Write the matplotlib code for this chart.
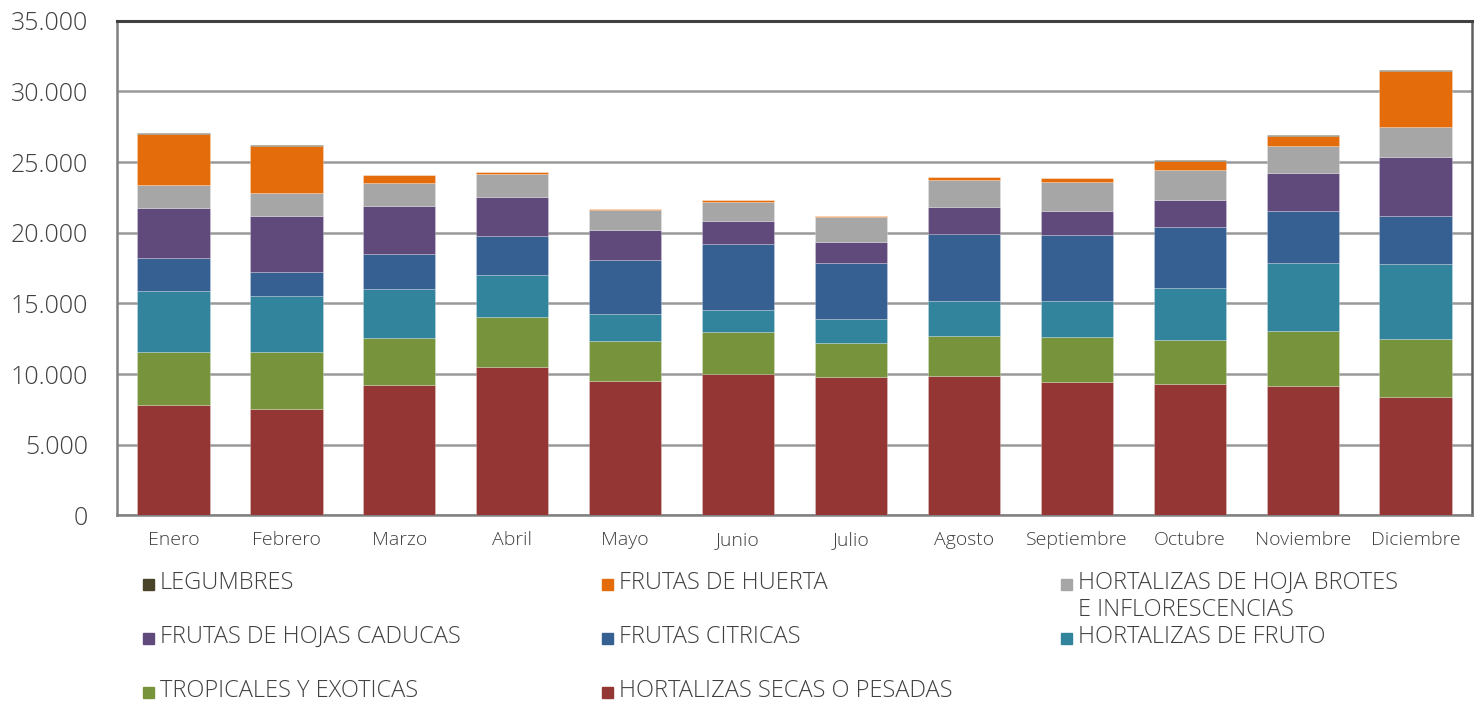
import numpy as np
import matplotlib
matplotlib.use("Agg")
from matplotlib import pyplot as plt
from matplotlib.patches import Rectangle
from matplotlib.ticker import FuncFormatter

# months on the x axis
meses = ['Enero', 'Febrero', 'Marzo', 'Abril', 'Mayo', 'Junio', 'Julio',
         'Agosto', 'Septiembre', 'Octubre', 'Noviembre', 'Diciembre']

# series, bottom of the stack first
secas = [7790, 7507, 9228, 10481, 9532, 10007, 9816, 9887, 9419, 9277, 9179, 8378]
tropicales = [3796, 4036, 3307, 3541, 2812, 2953, 2365, 2790, 3208, 3116, 3852, 4086]
hort_fruto = [4278, 3967, 3470, 2975, 1912, 1558, 1700, 2479, 2550, 3726, 4816, 5312]
citricas = [2358, 1742, 2479, 2783, 3803, 4674, 4008, 4744, 4653, 4277, 3683, 3399]
caducas = [3520, 3895, 3371, 2713, 2096, 1650, 1487, 1912, 1721, 1884, 2662, 4200]
hoja = [1650, 1679, 1629, 1678, 1417, 1346, 1728, 1885, 2032, 2124, 1913, 2075]
huerta = [3590, 3307, 567, 120, 70, 92, 93, 240, 305, 687, 736, 3966]
legumbres = [60, 40, 10, 5, 0, 0, 0, 0, 0, 50, 71, 70]

series = [
    ('HORTALIZAS SECAS O PESADAS', secas, '#943634'),
    ('TROPICALES Y EXOTICAS', tropicales, '#77933C'),
    ('HORTALIZAS DE FRUTO', hort_fruto, '#31849B'),
    ('FRUTAS CITRICAS', citricas, '#366092'),
    ('FRUTAS DE HOJAS CADUCAS', caducas, '#604A7B'),
    ('HORTALIZAS DE HOJA BROTES\nE INFLORESCENCIAS', hoja, '#A6A6A6'),
    ('FRUTAS DE HUERTA', huerta, '#E46C0A'),
    ('LEGUMBRES', legumbres, '#494429'),
]

plt.rcParams['font.family'] = ['Open Sans', 'DejaVu Sans']
plt.rcParams['font.weight'] = 'light'
txt_color = '#404040'

fig = plt.figure(figsize=(14.83, 7.04), dpi=100)
ax = fig.add_axes([0.0789, 0.268, 0.9137, 0.7026])

x = np.arange(len(meses))
bottom = np.zeros(len(meses))
for name, vals, col in series:
    vals = np.array(vals, dtype=float)
    ax.bar(x, vals, 0.64, bottom=bottom, color=col, edgecolor=(1, 1, 1, 0.4),
           linewidth=0.4, zorder=3)
    bottom += vals

ax.set_xlim(-0.5, 11.5)
ax.set_ylim(0, 35000)
ax.set_yticks(np.arange(0, 35001, 5000))
ax.yaxis.set_major_formatter(FuncFormatter(lambda v, p: '{:,.0f}'.format(v).replace(',', '.')))
ax.grid(axis='y', color='#999999', linewidth=1.8, zorder=0)
ax.set_xticks(x)
ax.set_xticklabels(meses)
ax.tick_params(axis='y', length=0, pad=21, labelsize=18, labelcolor=txt_color)
ax.tick_params(axis='x', length=0, pad=11, labelsize=14, labelcolor=txt_color)

for s in ['left', 'bottom']:
    ax.spines[s].set_color('#808080')
    ax.spines[s].set_linewidth(1.8)
ax.spines['right'].set_color('#606060')
ax.spines['right'].set_linewidth(1.8)
ax.spines['top'].set_color('#404040')
ax.spines['top'].set_linewidth(2.2)

# legend drawn by hand so rows stay aligned with the two-line entry
order = [7, 6, 5, 4, 3, 2, 1, 0]
col_x = [143, 602, 1061]
row_y = [584, 638, 692]
W, H = 1483.0, 704.0
for i, idx in enumerate(order):
    name, vals, col = series[idx]
    cx = col_x[i % 3]
    cy = row_y[i // 3]
    fig.patches.append(Rectangle((cx / W, 1 - (cy + 6) / H), 11 / W, 11 / H,
                                 transform=fig.transFigure, color=col))
    fig.text((cx + 17) / W, 1 - (cy - 13) / H, name, fontsize=17, color=txt_color,
             va='top', ha='left', linespacing=1.15)

fig.savefig('out.png', dpi=100)
